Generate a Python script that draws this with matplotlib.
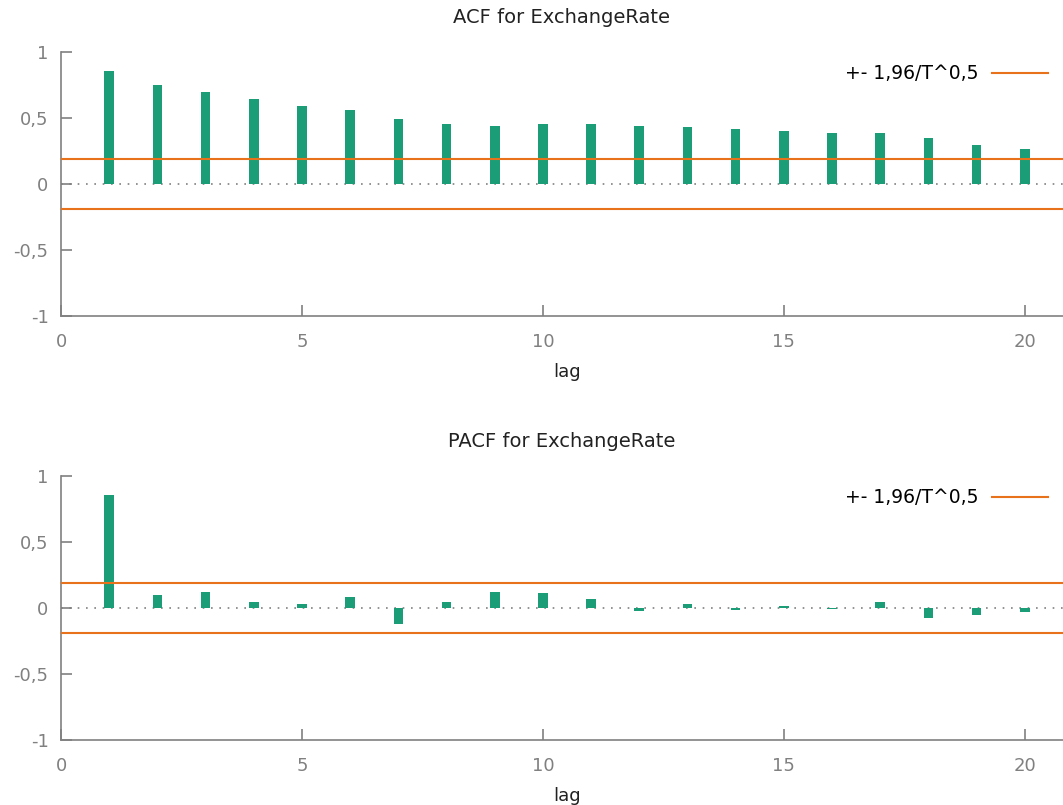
import numpy as np
import matplotlib.pyplot as plt

# Korrelogramm-Werte
lags = np.arange(1, 21)
acf_vals = [0.853, 0.747, 0.696, 0.641, 0.588, 0.563, 0.495, 0.454, 0.441, 0.452,
            0.454, 0.441, 0.429, 0.414, 0.399, 0.386, 0.386, 0.348, 0.293, 0.268]
pacf_vals = [0.853, 0.095, 0.120, 0.043, 0.030, 0.085, -0.121, 0.043, 0.121, 0.110,
             0.068, -0.020, 0.030, -0.012, 0.015, -0.008, 0.043, -0.078, -0.053, -0.028]
conf_band = 0.187
yticks = [-1, -0.5, 0, 0.5, 1]
ytick_labels = ["-1", "-0,5", "0", "0,5", "1"]
xticks = [0, 5, 10, 15, 20]

green = "#1b9e77"
orange = "#e8711c"
grey = "#808080"

plt.rcParams["font.family"] = "DejaVu Sans"

fig = plt.figure(figsize=(10.63, 8.05), dpi=100)
ax_top = fig.add_axes([0.0574, 0.6075, 0.952, 0.328])
ax_bot = fig.add_axes([0.0574, 0.0807, 0.952, 0.328])

for ax, vals, title in [(ax_top, acf_vals, "ACF for ExchangeRate"),
                        (ax_bot, pacf_vals, "PACF for ExchangeRate")]:
    ax.bar(lags, vals, width=0.2, color=green, zorder=2)
    ax.axhline(0, color=grey, lw=1.2, ls=(0, (1, 4)), zorder=1)
    ax.axhline(conf_band, color=orange, lw=1.5, zorder=3, label="+- 1,96/T^0,5")
    ax.axhline(-conf_band, color=orange, lw=1.5, zorder=3)
    ax.set_xlim(0, 21)
    ax.set_ylim(-1, 1)
    ax.set_xticks(xticks)
    ax.set_yticks(yticks)
    ax.set_yticklabels(ytick_labels)
    ax.tick_params(direction="in", length=8, width=1.2, color=grey,
                   labelcolor=grey, labelsize=13, pad=9)
    ax.tick_params(axis="x", pad=12)
    for side in ["top", "right"]:
        ax.spines[side].set_visible(False)
    for side in ["left", "bottom"]:
        ax.spines[side].set_color(grey)
        ax.spines[side].set_linewidth(1.2)
    ax.set_title(title, fontsize=14, color="#222222", pad=21, x=0.495)
    ax.set_xlabel("lag", fontsize=13, color="#222222", labelpad=9)
    ax.legend(loc="upper right", bbox_to_anchor=(0.992, 1.017), frameon=False,
              markerfirst=False, fontsize=13.5, handlelength=3.0,
              handletextpad=0.7)

fig.savefig("out.png", dpi=100)
